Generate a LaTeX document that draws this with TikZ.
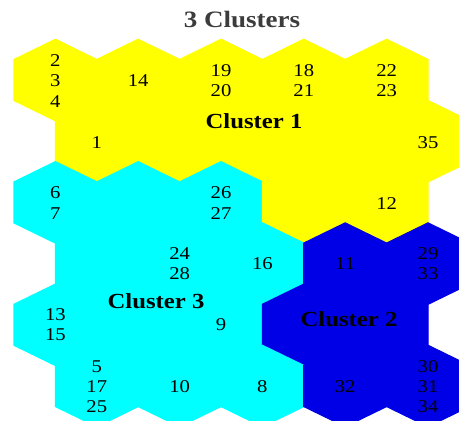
\documentclass[tikz,border=0pt]{standalone}
\usepackage{fontspec}
\setmainfont{Liberation Serif}[FakeStretch=1.15]
\definecolor{clusteryellow}{HTML}{FFFF00}
\definecolor{clustercyan}{HTML}{00FFFF}
\definecolor{clusterblue}{HTML}{0000E6}
\definecolor{titlegray}{HTML}{3C3C3C}

\begin{document}
\begin{tikzpicture}[x=1pt,y=-1pt,
  hexcell/.style={line width=1.2pt,line join=miter},
  unitlabel/.style={inner sep=0pt,align=center,font=\fontsize{18}{20.2}\selectfont,text=black},
  clusterlabel/.style={inner sep=0pt,font=\bfseries\fontsize{21.5}{24}\selectfont,text=black},
  maptitle/.style={inner sep=0pt,font=\bfseries\fontsize{23.5}{26}\selectfont,text=titlegray}
]
\path[use as bounding box] (0,0) rectangle (459,421);

% Hexagonal map, 6 rows of 5 cells, odd rows shifted right
\begin{scope}
\clip (0,0) rectangle (459,421);
\foreach \r/\palette in {
  0/{clusteryellow,clusteryellow,clusteryellow,clusteryellow,clusteryellow},
  1/{clusteryellow,clusteryellow,clusteryellow,clusteryellow,clusteryellow},
  2/{clustercyan,clustercyan,clustercyan,clusteryellow,clusteryellow},
  3/{clustercyan,clustercyan,clustercyan,clusterblue,clusterblue},
  4/{clustercyan,clustercyan,clustercyan,clusterblue,clusterblue},
  5/{clustercyan,clustercyan,clustercyan,clusterblue,clusterblue}}
{
  \foreach \cc [count=\c from 0] in \palette {
    \pgfmathsetmacro\cx{55.4+82.8*\c+41.4*mod(\r,2)}
    \pgfmathsetmacro\cy{80+61.2*\r}
    \filldraw[hexcell,fill=\cc,draw=\cc,shift={(\cx,\cy)}]
      (0,-40.7) -- (41.4,-20.5) -- (41.4,20.5) -- (0,40.7)
      -- (-41.4,20.5) -- (-41.4,-20.5) -- cycle;
  }
}
\end{scope}

% Title
\node[maptitle] (title) at (242,19.5) {3 Clusters};

% Unit labels, row by row
\node[unitlabel] (u234) at (55.4,81) {2\\3\\4};
\node[unitlabel] (u14) at (138.2,81) {14};
\node[unitlabel] (u1920) at (221,80.5) {19\\20};
\node[unitlabel] (u1821) at (303.8,80.5) {18\\21};
\node[unitlabel] (u2223) at (386.6,80.5) {22\\23};

\node[unitlabel] (u1) at (96.8,143) {1};
\node[unitlabel] (u35) at (428,142.5) {35};

\node[unitlabel] (u67) at (55.4,203) {6\\7};
\node[unitlabel] (u2627) at (221,203) {26\\27};
\node[unitlabel] (u12) at (386.6,204) {12};

\node[unitlabel] (u2428) at (179.6,263.5) {24\\28};
\node[unitlabel] (u16) at (262.4,264) {16};
\node[unitlabel] (u11) at (345.2,264) {11};
\node[unitlabel] (u2933) at (428,263.5) {29\\33};

\node[unitlabel] (u1315) at (55.4,325) {13\\15};
\node[unitlabel] (u9) at (221,325) {9};

\node[unitlabel] (u51725) at (96.8,386.5) {5\\17\\25};
\node[unitlabel] (u10) at (179.6,386.5) {10};
\node[unitlabel] (u8) at (262.4,386.5) {8};
\node[unitlabel] (u32) at (345.2,387) {32};
\node[unitlabel] (u303134) at (428,386.5) {30\\31\\34};

% Cluster names
\node[clusterlabel] (cluster1) at (254,121) {Cluster 1};
\node[clusterlabel] (cluster2) at (349,319.5) {Cluster 2};
\node[clusterlabel] (cluster3) at (156,301) {Cluster 3};

\end{tikzpicture}
\end{document}
